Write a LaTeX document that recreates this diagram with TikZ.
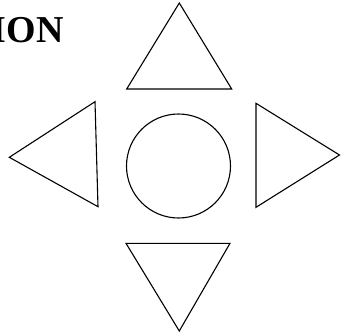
\documentclass[tikz,border=0pt]{standalone}
\usepackage{fontspec}
\setmainfont{Liberation Serif}
\usetikzlibrary{positioning}

\begin{document}
\begin{tikzpicture}[
  x=1pt,
  y=1pt,
  every node/.style={inner sep=0pt},
  shapeline/.style={draw=black, line width=1.1pt, line join=miter},
  titletext/.style={font=\fontsize{38}{44}\selectfont\bfseries, anchor=base east}
]
  \useasboundingbox (0,0) rectangle (341,-335);

  % Title, cut at the left edge.
  \node[titletext] (title) at (63.8,-42.5) {ION};

  % Centre disc.
  \node[shapeline, circle, minimum size=104pt] (hub) at (178.5,-166) {};

  % Four pointing triangles.
  \draw[shapeline] (179.3,-3) -- (126.7,-89) -- (231.7,-89) -- cycle;
  \draw[shapeline] (9.3,-157.3) -- (95,-101.7) -- (98,-206.7) -- cycle;
  \draw[shapeline] (256,-103.3) -- (339.5,-155) -- (256,-207.3) -- cycle;
  \draw[shapeline] (126,-243.3) -- (230,-243.3) -- (179.3,-331) -- cycle;
\end{tikzpicture}
\end{document}
